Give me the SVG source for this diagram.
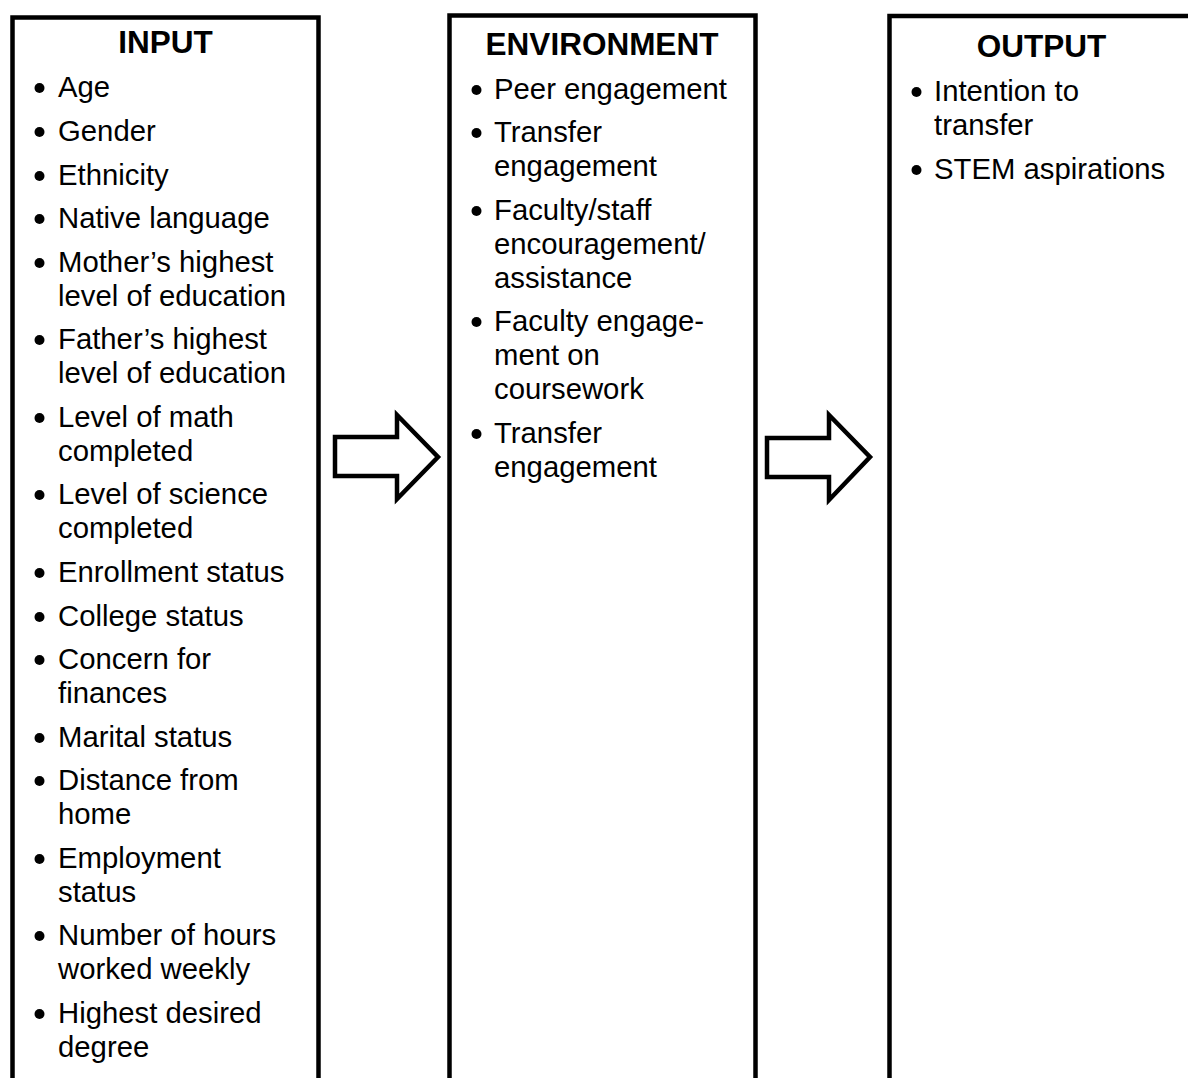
<svg xmlns="http://www.w3.org/2000/svg" width="1188" height="1078" viewBox="0 0 1188 1078">
<style>
.box{fill:#fff;stroke:#000;stroke-width:4.5}
.arrow{fill:#fff;stroke:#000;stroke-width:4.5;stroke-linejoin:miter}
.hd{font-family:"Liberation Sans",Arial,sans-serif;font-weight:bold;font-size:31.5px;text-anchor:middle;fill:#000}
.tx{font-family:"Liberation Sans",Arial,sans-serif;font-size:29.3px;fill:#000}
.bl{fill:#000}
</style>
<rect width="1188" height="1078" fill="#fff"/>
<g id="input">
<rect class="box" x="12.5" y="17.5" width="306" height="1100"/>
<text class="hd" x="165.5" y="53">INPUT</text>
<g class="bl">
<circle cx="39.5" cy="88" r="5"/><circle cx="39.5" cy="132" r="5"/><circle cx="39.5" cy="176" r="5"/><circle cx="39.5" cy="219" r="5"/><circle cx="39.5" cy="263" r="5"/><circle cx="39.5" cy="340" r="5"/><circle cx="39.5" cy="418" r="5"/><circle cx="39.5" cy="495" r="5"/><circle cx="39.5" cy="573" r="5"/><circle cx="39.5" cy="617" r="5"/><circle cx="39.5" cy="660" r="5"/><circle cx="39.5" cy="738" r="5"/><circle cx="39.5" cy="781" r="5"/><circle cx="39.5" cy="859" r="5"/><circle cx="39.5" cy="936" r="5"/><circle cx="39.5" cy="1014" r="5"/>
</g>
<text class="tx" x="58" y="97">Age</text>
<text class="tx" x="58" y="141">Gender</text>
<text class="tx" x="58" y="185">Ethnicity</text>
<text class="tx" x="58" y="228">Native language</text>
<text class="tx" x="58" y="272">Mother’s highest</text>
<text class="tx" x="58" y="306">level of education</text>
<text class="tx" x="58" y="349">Father’s highest</text>
<text class="tx" x="58" y="383">level of education</text>
<text class="tx" x="58" y="427">Level of math</text>
<text class="tx" x="58" y="461">completed</text>
<text class="tx" x="58" y="504">Level of science</text>
<text class="tx" x="58" y="538">completed</text>
<text class="tx" x="58" y="582">Enrollment status</text>
<text class="tx" x="58" y="626">College status</text>
<text class="tx" x="58" y="669">Concern for</text>
<text class="tx" x="58" y="703">finances</text>
<text class="tx" x="58" y="747">Marital status</text>
<text class="tx" x="58" y="790">Distance from</text>
<text class="tx" x="58" y="824">home</text>
<text class="tx" x="58" y="868">Employment</text>
<text class="tx" x="58" y="902">status</text>
<text class="tx" x="58" y="945">Number of hours</text>
<text class="tx" x="58" y="979">worked weekly</text>
<text class="tx" x="58" y="1023">Highest desired</text>
<text class="tx" x="58" y="1057">degree</text>
</g>
<g id="environment">
<rect class="box" x="449.5" y="15.5" width="306" height="1100"/>
<text class="hd" x="602" y="55">ENVIRONMENT</text>
<g class="bl">
<circle cx="476.5" cy="90" r="5"/><circle cx="476.5" cy="133" r="5"/><circle cx="476.5" cy="211" r="5"/><circle cx="476.5" cy="322" r="5"/><circle cx="476.5" cy="434" r="5"/>
</g>
<text class="tx" x="494" y="99">Peer engagement</text>
<text class="tx" x="494" y="142">Transfer</text>
<text class="tx" x="494" y="176">engagement</text>
<text class="tx" x="494" y="220">Faculty/staff</text>
<text class="tx" x="494" y="254">encouragement/</text>
<text class="tx" x="494" y="288">assistance</text>
<text class="tx" x="494" y="331">Faculty engage-</text>
<text class="tx" x="494" y="365">ment on</text>
<text class="tx" x="494" y="399">coursework</text>
<text class="tx" x="494" y="443">Transfer</text>
<text class="tx" x="494" y="477">engagement</text>
</g>
<g id="output">
<rect class="box" x="889.5" y="16" width="306" height="1100"/>
<text class="hd" x="1041.5" y="57">OUTPUT</text>
<g class="bl">
<circle cx="916.5" cy="92" r="5"/><circle cx="916.5" cy="170" r="5"/>
</g>
<text class="tx" x="934" y="101">Intention to</text>
<text class="tx" x="934" y="135">transfer</text>
<text class="tx" x="934" y="179">STEM aspirations</text>
</g>
<g id="connectors">
<path class="arrow" d="M335,437 L397,437 L397,415 L438,457 L397,499 L397,476 L335,476 Z"/>
<path class="arrow" d="M767,438 L829,438 L829,415 L870,457 L829,500 L829,477 L767,477 Z"/>
</g>
</svg>
